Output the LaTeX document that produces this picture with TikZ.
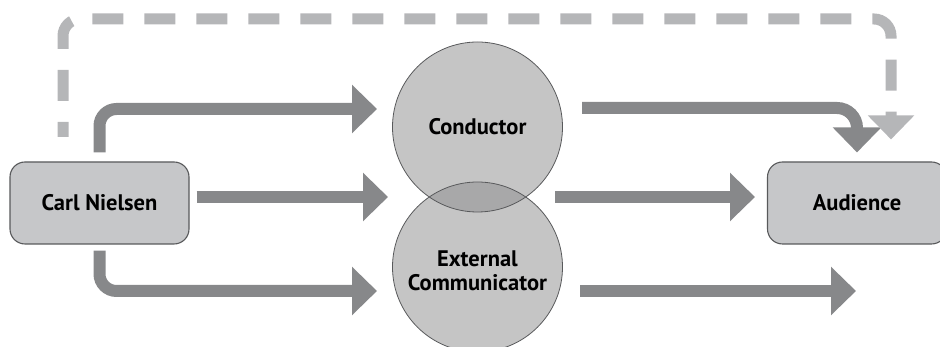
\documentclass[tikz,border=0pt]{standalone}
\usepackage{fontspec}
\setmainfont{PT Sans}
\usetikzlibrary{arrows.meta}
\definecolor{boxfill}{HTML}{C6C7C9}
\definecolor{edgegray}{HTML}{58595B}
\definecolor{flowgray}{HTML}{87888A}
\definecolor{dashgray}{HTML}{B5B6B8}
\definecolor{discgray}{HTML}{8F8F90}
\tikzset{
  actor/.style={draw=edgegray, line width=1.1pt, fill=boxfill, rounded corners=15pt,
    minimum width=179pt, minimum height=82pt, font=\fontsize{22.5}{25}\selectfont\bfseries},
  role/.style={circle, minimum size=170pt, inner sep=0pt, align=center,
    font=\fontsize{22.5}{24}\selectfont\bfseries},
  flow/.style={line width=12pt, draw=flowgray, rounded corners=17pt,
    -{Triangle[width=47pt,length=25pt]}},
  feedback/.style={line width=11pt, draw=dashgray, rounded corners=17pt,
    dash pattern=on 31pt off 21pt, dash phase=16pt,
    -{Triangle[width=45pt,length=24pt]}},
}
\begin{document}
\begin{tikzpicture}[x=1pt,y=1pt]
\useasboundingbox (0,0) rectangle (940,347);
\begin{scope}
\clip (0,0) rectangle (940,347);
% two overlapping discs: translucent fill darkens the shared lens
\fill[discgray, fill opacity=0.52] (477.5,220) circle (85pt);
\fill[discgray, fill opacity=0.52] (477.5,80) circle (85pt);
\draw[edgegray, line width=0.8pt] (477.5,220) circle (85pt);
\draw[edgegray, line width=0.8pt] (477.5,80) circle (85pt);
\node[role] (cond) at (477.5,220) {Conductor};
\node[role] (ext) at (477.5,76) {External\\Communicator};

\node[actor] (carl) at (99.5,144) {Carl Nielsen};
\node[actor] (aud) at (857,144) {Audience};
\end{scope}

% arrow end points in front of the discs
\coordinate (toCond) at (377,238);
\coordinate (toMid) at (388,150);
\coordinate (toExt) at (377,56);
\coordinate (fromCond) at (582,239);
\coordinate (fromMid) at (555,150);
\coordinate (fromExt) at (580,56);
\coordinate (midEnd) at (755,150);
\coordinate (extEnd) at (856,56);
\coordinate (fbStart) at (63,210);
\coordinate (fbTop) at (891,328);

% Carl Nielsen to the two roles and straight across
\draw[flow] ([yshift=9pt]carl.north) |- (toCond);
\draw[flow] ([xshift=7pt,yshift=6pt]carl.east) -- (toMid);
\draw[flow] ([yshift=-6pt]carl.south) |- (toExt);

% roles onward to the audience
\draw[flow, rounded corners=20pt] (fromCond) -| ([yshift=9pt]aud.north);
\draw[flow] (fromMid) -- (midEnd);
\draw[flow] (fromExt) -- (extEnd);

% dashed direct line over the top
\draw[feedback] (fbStart) |- (fbTop) -- ([xshift=34pt,yshift=22pt]aud.north);
\end{tikzpicture}
\end{document}
